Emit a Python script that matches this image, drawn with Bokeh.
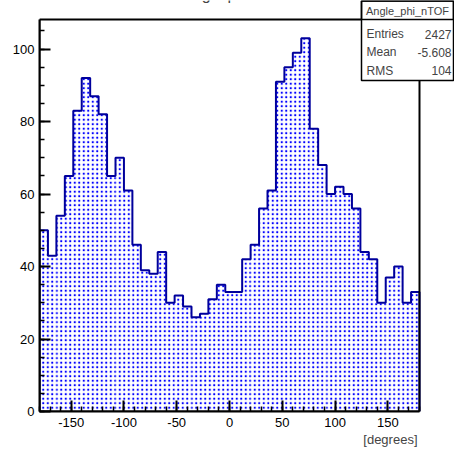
import numpy as np
from bokeh.plotting import figure
from bokeh.models import Range1d, SingleIntervalTicker, Label, BoxAnnotation, Title
from bokeh.embed import file_html
from bokeh.resources import INLINE

# ---- data ----
hist_name = "Angle_phi_nTOF"
x_lo, x_hi = -180, 180
counts = [50, 43, 54, 65, 83, 92, 87, 82, 65, 70, 61, 46, 39, 38, 44, 30, 32, 29,
          26, 27, 31, 35, 33, 33, 42, 46, 56, 61, 91, 95, 99, 103, 78, 68, 60, 62,
          60, 56, 44, 42, 30, 37, 40, 30, 33]
x_ticks = [-150, -100, -50, 0, 50, 100, 150]
y_ticks = [0, 20, 40, 60, 80, 100]
stats_names = ["Entries", "Mean", "RMS"]
stats_values = ["2427", "-5.608", "104"]
x_title = "[degrees]"
title_text = "Angle phi"

# ---- geometry (pixels) ----
W, H = 454, 450
FL, FR, FT, FB = 39, 419, 19, 411      # histogram frame
ymax = 1.05 * max(counts)
FONT = "Liberation Sans"


def X(px):
    return x_lo + (px - FL) * (x_hi - x_lo) / (FR - FL)


def Y(py):
    return (FB - py) * ymax / (FB - FT)


n = len(counts)
edges = np.linspace(x_lo, x_hi, n + 1)
c = np.array(counts, dtype=float)

# the plotting area spans to the right and top edges so that the stats box fits
p = figure(width=W, height=H, output_backend="svg", toolbar_location=None,
           x_range=Range1d(x_lo, X(W)), y_range=Range1d(0, Y(0)),
           min_border_left=FL, min_border_right=0,
           min_border_top=0, min_border_bottom=H - FB,
           background_fill_color="white", border_fill_color="white")
p.grid.visible = False
p.outline_line_color = None

# histogram fill (dotted pattern)
p.quad(left=edges[:-1], right=edges[1:], top=c, bottom=0,
       fill_color=None, line_color=None,
       hatch_pattern="dot", hatch_color="#0000ff", hatch_scale=4.5, hatch_weight=2)

# histogram outline
xs = np.repeat(edges, 2)
ys = np.concatenate([[0], np.repeat(c, 2), [0]])
p.line(xs, ys, line_color="#00009c", line_width=2)

# frame (top / right sides)
p.add_layout(BoxAnnotation(left=x_lo, right=x_hi, bottom=0, top=ymax,
                           fill_alpha=0, line_color="black", line_width=2, line_alpha=1))

for ax, step, nminor, bnds, tks in ((p.xaxis[0], 50, 5, (x_lo, x_hi), x_ticks),
                                    (p.yaxis[0], 20, 4, (0, ymax), y_ticks)):
    ax.ticker = SingleIntervalTicker(interval=step, num_minor_ticks=nminor)
    ax.bounds = bnds
    ax.major_label_overrides = {t: str(t) for t in tks}
    ax.major_tick_in = 11
    ax.major_tick_out = 0
    ax.minor_tick_in = 5
    ax.minor_tick_out = 0
    ax.axis_line_width = 2
    ax.major_tick_line_width = 2
    ax.minor_tick_line_width = 1.5
    ax.major_label_text_font = FONT
    ax.major_label_text_font_size = "13px"
    ax.major_label_text_color = "black"
p.xaxis.major_label_standoff = 6
p.yaxis.major_label_standoff = 5

p.add_layout(Title(text=x_title, align="right", offset=W - 417, standoff=0,
                   text_font=FONT, text_font_size="13px", text_font_style="normal"),
             "below")

# main title, mostly above the visible page as in the reference
p.add_layout(Label(x=X(215), y=Y(-6), text=title_text, text_align="center",
                   text_baseline="alphabetic", text_font=FONT, text_font_size="16px"))

# stats box
p.add_layout(BoxAnnotation(left=X(361), right=X(453), top=Y(0.5), bottom=Y(80),
                           fill_color="white", fill_alpha=1, line_color="black",
                           line_width=1.5, line_alpha=1))
p.add_layout(BoxAnnotation(left=X(361), right=X(453), top=Y(0.5), bottom=Y(19),
                           fill_alpha=0, line_color="black", line_width=1.5, line_alpha=1))
p.add_layout(Label(x=X(407), y=Y(10), text=hist_name, text_align="center",
                   text_baseline="middle", text_font=FONT, text_font_size="11px"))
for i, (nm, val) in enumerate(zip(stats_names, stats_values)):
    yy = Y(33.5 + i * 18.3)
    p.add_layout(Label(x=X(366), y=yy, text=nm, text_align="left", text_baseline="middle",
                       text_font=FONT, text_font_size="12px"))
    p.add_layout(Label(x=X(451), y=yy, text=val, text_align="right", text_baseline="middle",
                       text_font=FONT, text_font_size="12px"))

open("out.html", "w").write(file_html(p, INLINE))
